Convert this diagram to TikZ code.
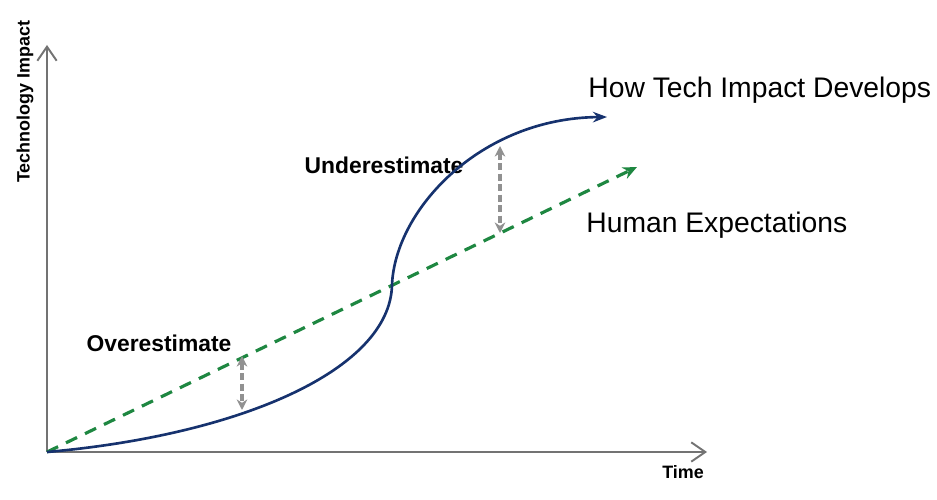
\documentclass[tikz,border=0pt]{standalone}
\usepackage{fontspec}
\setmainfont{Liberation Sans}
\usetikzlibrary{arrows.meta}
\definecolor{techblue}{RGB}{22,50,110}
\definecolor{expgreen}{RGB}{30,135,65}
\definecolor{gapgray}{RGB}{145,145,145}
\definecolor{axisgray}{RGB}{115,115,115}

\begin{document}
\begin{tikzpicture}[x=0.02cm,y=-0.02cm,
    axis/.style={draw=axisgray, line width=1.1pt, -{Straight Barb[length=8pt,width=11pt,line width=1.1pt]}},
    techcurve/.style={draw=techblue, line width=1.5pt, -{Stealth[length=8pt,width=6pt]}},
    expline/.style={draw=expgreen, line width=1.8pt, dash pattern=on 7pt off 5pt, -{Stealth[length=8pt,width=7pt]}},
    gap/.style={draw=gapgray, line width=1.8pt, dash pattern=on 4pt off 2pt, {Stealth[length=6pt,width=6pt]}-{Stealth[length=6pt,width=6pt]}},
    axislabel/.style={font=\fontsize{10.2}{12}\selectfont\bfseries, inner sep=0pt},
    gaplabel/.style={font=\fontsize{13}{15}\selectfont\bfseries, inner sep=0pt},
    curvelabel/.style={font=\fontsize{16.1}{19}\selectfont, inner sep=0pt}]
    \useasboundingbox (0,0) rectangle (937,500);

    \coordinate (o) at (47,452);
    \coordinate (ytip) at (47,45);
    \coordinate (xtip) at (707,452);
    \coordinate (infl) at (392,285);
    \coordinate (techend) at (607,117);
    \coordinate (expend) at (637,167);
    \coordinate (overtop) at (242,356);
    \coordinate (overbot) at (242,410);
    \coordinate (undertop) at (500,146);
    \coordinate (underbot) at (500,233);

    \node[axislabel, rotate=90] (impact) at (25,102) {Technology Impact};
    \node[axislabel] (time) at (683,472) {Time};
    \node[gaplabel] (over) at (159,343) {Overestimate};
    \node[gaplabel] (under) at (384,165) {Underestimate};
    \node[curvelabel, anchor=base west] (howtech) at (588,98) {How Tech Impact Develops};
    \node[curvelabel, anchor=base west] (human) at (586,233) {Human Expectations};

    \draw[axis] (o) -- (ytip);
    \draw[axis] (o) -- (xtip);
    \draw[expline] (o) -- (expend);
    \draw[techcurve] (o) .. controls (240,435) and (390,370) .. (infl)
        .. controls (395,210) and (480,118) .. (techend);
    \draw[gap] (overtop) -- (overbot);
    \draw[gap] (undertop) -- (underbot);
  \end{tikzpicture}
\end{document}
